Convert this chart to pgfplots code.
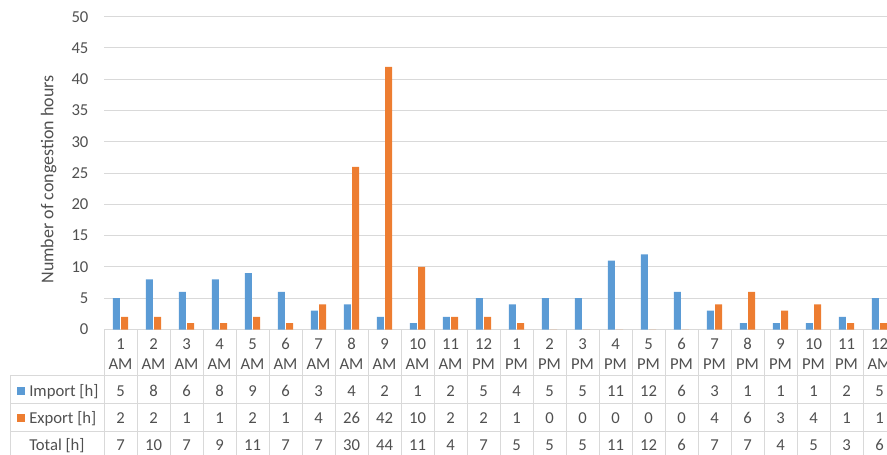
\documentclass[border=0pt]{standalone}
\usepackage{pgfplots}
\pgfplotsset{compat=1.18}
\usepackage{pgfplotstable}
\usepackage{fontspec}
\setmainfont{Carlito}
\definecolor{impc}{HTML}{5B9BD5}
\definecolor{expc}{HTML}{ED7D31}
\definecolor{gridc}{HTML}{D9D9D9}
\definecolor{txt}{HTML}{505050}

\pgfplotstableread[col sep=comma]{
x,hr,ap,imp,exp,tot
0,1,AM,5,2,7
1,2,AM,8,2,10
2,3,AM,6,1,7
3,4,AM,8,1,9
4,5,AM,9,2,11
5,6,AM,6,1,7
6,7,AM,3,4,7
7,8,AM,4,26,30
8,9,AM,2,42,44
9,10,AM,1,10,11
10,11,AM,2,2,4
11,12,PM,5,2,7
12,1,PM,4,1,5
13,2,PM,5,0,5
14,3,PM,5,0,5
15,4,PM,11,0,11
16,5,PM,12,0,12
17,6,PM,6,0,6
18,7,PM,3,4,7
19,8,PM,1,6,7
20,9,PM,1,3,4
21,10,PM,1,4,5
22,11,PM,2,1,3
23,12,AM,5,1,6
}\data

\newcommand\tfont{\fontsize{12.5}{15}\selectfont}

\begin{document}
\begin{tikzpicture}[font=\tfont, text=txt]
\path[use as bounding box] (0,0) rectangle (665.25pt,340.5pt);
\clip (0,0) rectangle (665.25pt,340.5pt);
\begin{axis}[
  at={(78pt,93.375pt)}, anchor=south west,
  scale only axis, width=594pt, height=234.6pt,
  xmin=-0.5, xmax=23.5, ymin=0, ymax=50,
  ytick={0,5,...,50}, xtick=\empty,
  ymajorgrids, grid style={gridc, line width=0.75pt},
  axis line style={draw=none},
  major tick length=0pt,
  ybar=1.1pt, bar width=5.25pt,
  /pgf/number format/assume math mode=true,
  yticklabel style={font=\tfont, text=txt, inner sep=0pt, anchor=east, xshift=-11.5pt},
  ylabel={Number of congestion hours},
  ylabel style={at={(axis description cs:-0.0699,0.48)}, anchor=center, font=\fontsize{13.5}{16}\selectfont, text=txt},
  clip=false,
]
\addplot[fill=impc, draw=none] table[x=x, y=imp]{\data};
\addplot[fill=expc, draw=none] table[x=x, y=exp]{\data};
\end{axis}
\begin{scope}[x=0.75pt, y=-0.75pt, shift={(0,340.5pt)}]
  \draw[gridc, line width=0.75pt] (10,375) -- (900,375) (10,403) -- (900,403) (10,431) -- (900,431);
  \draw[gridc, line width=0.75pt] (10,375) -- (10,470);
  \foreach \i in {0,...,24} {
    \draw[gridc, line width=0.75pt] ({104+33*\i},329.5) -- ({104+33*\i},470);
  }
  \fill[impc] (17,387) rectangle (25,395);
  \fill[expc] (17,413.5) rectangle (25,421.5);
  \node[anchor=base west, inner sep=0pt] at (29,396) {Import [h]};
  \node[anchor=base west, inner sep=0pt] at (29,423) {Export [h]};
  \node[anchor=base west, inner sep=0pt] at (29,450) {Total [h]};
  \foreach \i in {0,...,23} {
    \pgfplotstablegetelem{\i}{hr}\of\data \let\vhr\pgfplotsretval
    \pgfplotstablegetelem{\i}{ap}\of\data \let\vap\pgfplotsretval
    \pgfplotstablegetelem{\i}{imp}\of\data \let\vimp\pgfplotsretval
    \pgfplotstablegetelem{\i}{exp}\of\data \let\vexp\pgfplotsretval
    \pgfplotstablegetelem{\i}{tot}\of\data \let\vtot\pgfplotsretval
    \node[anchor=base, inner sep=0pt] at ({104+33*(\i+0.5)},349) {\vhr};
    \node[anchor=base, inner sep=0pt] at ({104+33*(\i+0.5)},369) {\vap};
    \node[anchor=base, inner sep=0pt] at ({104+33*(\i+0.5)},396) {\vimp};
    \node[anchor=base, inner sep=0pt] at ({104+33*(\i+0.5)},423) {\vexp};
    \node[anchor=base, inner sep=0pt] at ({104+33*(\i+0.5)},450) {\vtot};
  }
\end{scope}
\end{tikzpicture}
\end{document}
